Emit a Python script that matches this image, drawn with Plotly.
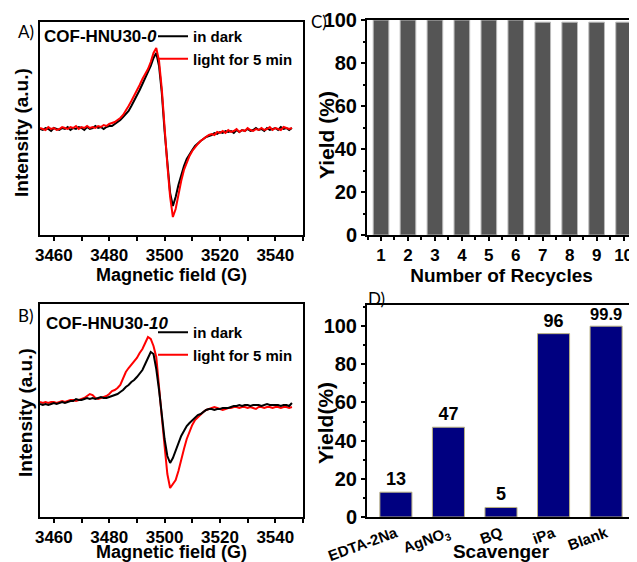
import plotly.graph_objects as go

# The page body has an 8px margin, so the figure is made 8px smaller and
# reference pixel positions are shifted by that offset.
OFF = 8
W, H = 637 - OFF, 562 - OFF

# ---------------- data ----------------
field = [3455, 3456, 3457, 3458, 3459, 3460, 3461, 3462, 3463, 3464,
         3465, 3466, 3467, 3468, 3469, 3470, 3471, 3472, 3473, 3474,
         3475, 3476, 3477, 3478, 3479, 3480, 3481, 3482, 3483, 3484,
         3485, 3486, 3487, 3488, 3489, 3490, 3491, 3492, 3493, 3494,
         3495, 3496, 3497, 3498, 3499, 3500, 3501, 3502, 3503, 3504,
         3505, 3506, 3507, 3508, 3509, 3510, 3511, 3512, 3513, 3514,
         3515, 3516, 3517, 3518, 3519, 3520, 3521, 3522, 3523, 3524,
         3525, 3526, 3527, 3528, 3529, 3530, 3531, 3532, 3533, 3534,
         3535, 3536, 3537, 3538, 3539, 3540, 3541, 3542, 3543, 3544,
         3545, 3546]

# Panel A: COF-HNU30-0
a_dark = [0, -1, 1, 0, -2, 1, 0, -1, 1, 0,
          2, -1, 1, 0, 2, 1, -1, 2, 0, 1,
          3, 1, 2, 0, 2, 3, 3, 5, 7, 9,
          12, 15, 18, 23, 28, 33, 39, 45, 51, 56,
          63, 71, 76, 63, 36, -2, -36, -64, -77, -68,
          -56, -45, -37, -30, -25, -21, -17, -14, -12, -10,
          -8, -7, -6, -4, -5, -3, -4, -2, -3, -2,
          -4, -1, -3, -1, -2, 0, -2, -1, 1, -1,
          0, -2, 1, -1, 0, 1, -1, 2, 0, 1,
          -1, 1]
a_light = [1, 0, -1, 2, 0, 1, -1, 0, 2, 1,
           0, 2, 1, 3, 0, 2, 1, 3, 1, 2,
           1, 3, 2, 4, 3, 5, 6, 7, 9, 11,
           14, 18, 23, 28, 33, 38, 44, 50, 55, 60,
           67, 76, 81, 68, 40, 0, -36, -68, -88, -80,
           -64, -52, -41, -33, -27, -22, -18, -15, -12, -10,
           -8, -6, -5, -6, -3, -4, -2, -4, -1, -3,
           -2, 0, -3, -1, -2, 1, -1, -2, 0, -1,
           1, -1, 0, 2, -1, 1, 0, -1, 2, 1,
           0, 1]

# Panel B: COF-HNU30-10
b_dark = [0, -1, 0, -1, 0, 1, 0, 1, 2, 1,
          2, 3, 3, 5, 4, 4, 5, 6, 5, 6,
          5, 6, 7, 6, 6, 7, 8, 9, 10, 12,
          14, 17, 19, 22, 24, 27, 30, 34, 40, 46,
          52, 50, 35, 14, -12, -35, -52, -59, -54, -46,
          -38, -32, -27, -22, -19, -16, -13, -11, -10, -8,
          -6, -5, -5, -6, -5, -5, -4, -4, -4, -3,
          -2, -2, -1, -2, -1, -1, -2, -1, -1, -1,
          -2, -1, 0, -1, -1, -1, -1, -2, -1, -1,
          -2, 1]
b_light = [2, 1, 2, 1, 2, 2, 1, 2, 3, 2,
           3, 4, 4, 3, 4, 5, 6, 8, 10, 9,
           6, 5, 6, 7, 8, 10, 13, 14, 16, 19,
           25, 32, 36, 39, 42, 46, 51, 55, 61, 67,
           65, 58, 47, 20, -13, -42, -70, -84, -80, -76,
           -67, -55, -45, -35, -27, -21, -16, -13, -10, -8,
           -6, -5, -4, -3, -4, -5, -6, -5, -4, -4,
           -3, -3, -4, -3, -3, -4, -3, -4, -5, -3,
           -3, -4, -3, -3, -4, -3, -3, -4, -3, -3,
           -4, -3]

# Panel C: recycling
recycles = [1, 2, 3, 4, 5, 6, 7, 8, 9, 10]
recycle_yield = [100, 100, 100, 100, 100, 100, 99, 99, 99, 99]

# Panel D: scavengers
scavengers = ["EDTA-2Na", "AgNO<sub>3</sub>", "BQ", "iPa", "Blank"]
scav_yield = [13, 47, 5, 96, 99.9]

# tick positions
field_ticks = [3460, 3480, 3500, 3520, 3540]
yield_ticks = [0, 20, 40, 60, 80, 100]

# ---------------- layout geometry (reference pixels) ----------------
FONT = "Liberation Sans, Arial, sans-serif"

PANELS = {
    "A": dict(box=(40, 303, 22, 235), xr=[3455, 3550], yr=[-106, 107], xa="x", ya="y"),
    "C": dict(box=(367, 636, 20, 235), xr=[0.48, 10.46], yr=[0, 100], xa="x2", ya="y2"),
    "B": dict(box=(40, 303, 304, 517), xr=[3455, 3550], yr=[-113, 100], xa="x3", ya="y3"),
    "D": dict(box=(367, 635, 305, 517), xr=[-0.55, 4.55], yr=[0, 111], xa="x4", ya="y4"),
}


def fx(p):
    return (p - OFF) / W


def fy(p):
    return 1 - (p - OFF) / H


def dom_x(p):
    return [fx(p["box"][0]), fx(p["box"][1])]


def dom_y(p):
    return [fy(p["box"][3]), fy(p["box"][2])]


fig = go.Figure()

# Panel A
fig.add_trace(go.Scatter(x=field, y=a_dark, mode="lines", name="in dark",
                         line=dict(color="black", width=2),
                         xaxis="x", yaxis="y", legend="legend"))
fig.add_trace(go.Scatter(x=field, y=a_light, mode="lines", name="light for 5 min",
                         line=dict(color="#ff0000", width=2),
                         xaxis="x", yaxis="y", legend="legend"))
# Panel B (dark drawn on top, legend reversed so "in dark" is listed first)
fig.add_trace(go.Scatter(x=field, y=b_light, mode="lines", name="light for 5 min",
                         line=dict(color="#ff0000", width=2),
                         xaxis="x3", yaxis="y3", legend="legend2"))
fig.add_trace(go.Scatter(x=field, y=b_dark, mode="lines", name="in dark",
                         line=dict(color="black", width=2),
                         xaxis="x3", yaxis="y3", legend="legend2"))
# Panel C
fig.add_trace(go.Bar(x=recycles, y=recycle_yield, width=0.58,
                     marker=dict(color="#555555", line=dict(color="#bbbbbb", width=1)),
                     xaxis="x2", yaxis="y2", showlegend=False))
# Panel D
fig.add_trace(go.Bar(x=scavengers, y=scav_yield, width=0.61,
                     marker=dict(color="#000080", line=dict(color="#b8b080", width=1)),
                     texttemplate="%{y}", textposition="outside", cliponaxis=False,
                     textfont=dict(family=FONT, size=18, color="black", weight="bold"),
                     xaxis="x4", yaxis="y4", showlegend=False))

axis_common = dict(showline=True, linecolor="black", linewidth=2, mirror=True,
                   showgrid=False, zeroline=False, automargin=False,
                   ticks="outside", ticklen=4, tickcolor="black", tickwidth=1.5)
tickfont = dict(family=FONT, size=17, color="black", weight="bold")
tickfont_big = dict(family=FONT, size=20, color="black", weight="bold")
titlefont = dict(family=FONT, size=19, color="black", weight="bold")
titlefont_big = dict(family=FONT, size=21, color="black", weight="bold")


def xaxis_for(key, **kw):
    p = PANELS[key]
    return dict(axis_common, domain=dom_x(p), range=p["xr"], anchor=p["ya"], **kw)


def yaxis_for(key, **kw):
    p = PANELS[key]
    return dict(axis_common, domain=dom_y(p), range=p["yr"], anchor=p["xa"], **kw)


epr_x_kw = dict(tickmode="array", tickvals=field_ticks, tickfont=tickfont,
                minor=dict(dtick=10, tick0=3450, ticks="outside", ticklen=4),
                title=dict(text="Magnetic field (G)",
                           font=dict(titlefont, size=18), standoff=0))
yield_kw = dict(tickmode="array", tickvals=yield_ticks, tickfont=tickfont_big, ticklen=4,
                minor=dict(dtick=10, tick0=0, ticks="outside", ticklen=2))

fig.update_layout(
    width=W, height=H,
    margin=dict(l=0, r=0, t=0, b=0),
    paper_bgcolor="white", plot_bgcolor="white",
    font=dict(family=FONT, color="black"),
    xaxis=xaxis_for("A", **epr_x_kw),
    yaxis=yaxis_for("A", showticklabels=False, ticks=""),
    xaxis3=xaxis_for("B", **epr_x_kw),
    yaxis3=yaxis_for("B", showticklabels=False, ticks=""),
    xaxis2=xaxis_for("C", tickmode="array", tickvals=recycles, tickfont=tickfont,
                     minor=dict(dtick=1, tick0=0.5, ticks="outside", ticklen=3),
                     title=dict(text="Number of Recycles", font=titlefont, standoff=0)),
    yaxis2=yaxis_for("C", **yield_kw),
    xaxis4=xaxis_for("D", tickangle=-20, ticks="",
                     tickfont=dict(family=FONT, size=15, color="black", weight="bold"),
                     title=dict(text="Scavenger", font=titlefont, standoff=0)),
    yaxis4=yaxis_for("D", **yield_kw),
    legend=dict(x=fx(153), y=fy(20), xanchor="left", yanchor="top",
                bgcolor="rgba(0,0,0,0)", borderwidth=0, itemwidth=30,
                font=dict(family=FONT, size=15, color="black", weight="bold"),
                tracegroupgap=0),
    legend2=dict(x=fx(153), y=fy(316), xanchor="left", yanchor="top",
                 bgcolor="rgba(0,0,0,0)", borderwidth=0, itemwidth=30,
                 traceorder="reversed",
                 font=dict(family=FONT, size=15, color="black", weight="bold"),
                 tracegroupgap=0),
)

label_font = dict(family="Lato, Liberation Sans, sans-serif", size=17, color="black")
bold17 = dict(family=FONT, size=17, color="black", weight="bold")
texts = [
    dict(text="A)", x=fx(16), y=fy(31), xanchor="left", yanchor="middle", font=label_font),
    dict(text="B)", x=fx(16), y=fy(315), xanchor="left", yanchor="middle", font=label_font),
    dict(text="C)", x=fx(309), y=fy(21), xanchor="left", yanchor="middle", font=label_font),
    dict(text="D)", x=fx(366), y=fy(298), xanchor="left", yanchor="middle", font=label_font),
    dict(text="COF-HNU30-<i>0</i>", x=fx(42), y=fy(36), xanchor="left", yanchor="middle",
         font=bold17),
    dict(text="COF-HNU30-<i>10</i>", x=fx(44), y=fy(323), xanchor="left", yanchor="middle",
         font=bold17),
    dict(text="Intensity (a.u.)", x=fx(22), y=fy(133), textangle=-90,
         xanchor="center", yanchor="middle", font=titlefont),
    dict(text="Intensity (a.u.)", x=fx(25), y=fy(413), textangle=-90,
         xanchor="center", yanchor="middle", font=titlefont),
    dict(text="Yield (%)", x=fx(326), y=fy(135), textangle=-90,
         xanchor="center", yanchor="middle", font=titlefont_big),
    dict(text="Yield(%)", x=fx(325), y=fy(423), textangle=-90,
         xanchor="center", yanchor="middle", font=titlefont_big),
]
for a in texts:
    a.update(xref="paper", yref="paper", showarrow=False)
fig.update_layout(annotations=texts)

fig.write_html("out.html")
